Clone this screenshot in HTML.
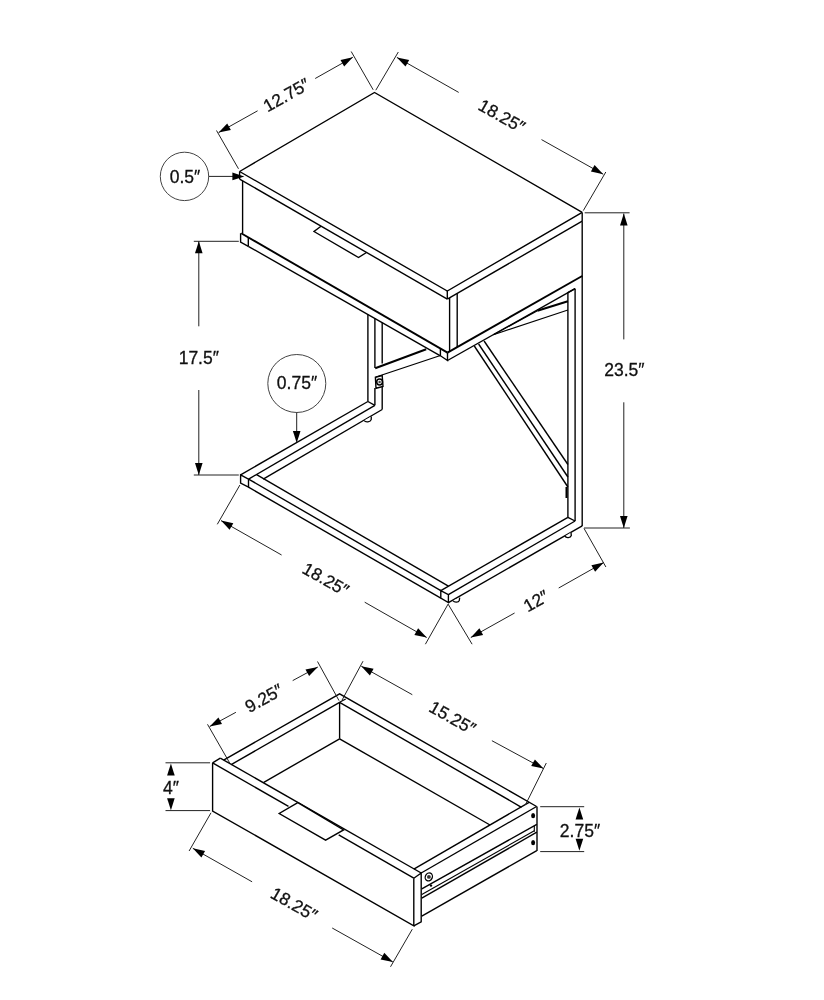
<!DOCTYPE html>
<html><head><meta charset="utf-8"><style>
html,body{margin:0;padding:0;background:#fff;}
svg{display:block;}
text{font-family:"Liberation Sans",sans-serif;fill:#111;stroke:#111;stroke-width:0.3px;}
svg{filter:grayscale(100%);}
</style></head><body>
<svg width="824" height="1000" viewBox="0 0 824 1000" stroke-linecap="butt">
<rect width="824" height="1000" fill="#fff"/>
<polyline points="239.6,171.5 374.5,92.5 582.2,212.4" fill="none" stroke="#000" stroke-width="1.38" stroke-linejoin="miter"/>
<polyline points="239.6,171.5 447.3,291.0 582.2,212.4" fill="none" stroke="#000" stroke-width="1.38" stroke-linejoin="miter"/>
<line x1="239.6" y1="171.5" x2="239.6" y2="179.1" stroke="#000" stroke-width="1.38"/>
<line x1="239.6" y1="179.1" x2="447.3" y2="299.1" stroke="#000" stroke-width="1.38"/>
<line x1="447.3" y1="291.0" x2="447.3" y2="299.1" stroke="#000" stroke-width="1.38"/>
<line x1="447.3" y1="299.1" x2="582.2" y2="221.2" stroke="#000" stroke-width="1.38"/>
<line x1="582.2" y1="212.4" x2="582.2" y2="221.2" stroke="#000" stroke-width="1.38"/>
<line x1="242.6" y1="180.9" x2="242.6" y2="233.3" stroke="#000" stroke-width="1.38"/>
<line x1="582.2" y1="221.2" x2="582.2" y2="526.0" stroke="#000" stroke-width="1.38"/>
<line x1="449.6" y1="298.0" x2="449.6" y2="352.0" stroke="#000" stroke-width="1.38"/>
<line x1="457.2" y1="293.6" x2="457.2" y2="347.0" stroke="#000" stroke-width="1.38"/>
<polyline points="321.0,226.2 314.0,231.5 358.5,257.5 366.5,252.5" fill="none" stroke="#000" stroke-width="1.38" stroke-linejoin="miter"/>
<line x1="241.2" y1="233.3" x2="447.5" y2="352.6" stroke="#000" stroke-width="1.9"/>
<line x1="248.3" y1="246.3" x2="440.4" y2="355.8" stroke="#000" stroke-width="1.38"/>
<polyline points="240.6,233.3 240.6,242.0 248.3,246.3" fill="none" stroke="#000" stroke-width="1.38" stroke-linejoin="miter"/>
<line x1="248.3" y1="237.3" x2="248.3" y2="246.3" stroke="#000" stroke-width="1.38"/>
<polyline points="440.4,349.0 440.4,355.7 447.5,360.5 447.5,352.6" fill="none" stroke="#000" stroke-width="1.38" stroke-linejoin="miter"/>
<line x1="447.5" y1="352.6" x2="582.2" y2="276.0" stroke="#000" stroke-width="1.9"/>
<line x1="447.5" y1="360.5" x2="575.1" y2="288.7" stroke="#000" stroke-width="1.38"/>
<line x1="567.9" y1="292.7" x2="567.9" y2="517.3" stroke="#000" stroke-width="1.38"/>
<line x1="575.1" y1="288.7" x2="575.1" y2="521.0" stroke="#000" stroke-width="1.38"/>
<line x1="567.4" y1="292.9" x2="575.1" y2="288.7" stroke="#000" stroke-width="1.38"/>
<line x1="493.4" y1="334.7" x2="537.4" y2="310.7" stroke="#000" stroke-width="1.2"/>
<line x1="537.4" y1="310.7" x2="567.9" y2="301.2" stroke="#000" stroke-width="2.2"/>
<line x1="493.4" y1="334.7" x2="567.9" y2="310.0" stroke="#000" stroke-width="1.2"/>
<line x1="474.3" y1="346.0" x2="567.9" y2="487.0" stroke="#000" stroke-width="1.38"/>
<line x1="478.6" y1="344.0" x2="567.9" y2="477.0" stroke="#000" stroke-width="1.38"/>
<line x1="484.1" y1="341.0" x2="567.9" y2="464.5" stroke="#000" stroke-width="1.38"/>
<line x1="566.5" y1="487.0" x2="566.5" y2="498.0" stroke="#000" stroke-width="2.0"/>
<line x1="367.9" y1="314.2" x2="367.9" y2="401.5" stroke="#000" stroke-width="1.38"/>
<line x1="374.9" y1="318.2" x2="374.9" y2="368.0" stroke="#000" stroke-width="1.38"/>
<line x1="374.9" y1="388.0" x2="374.9" y2="405.3" stroke="#000" stroke-width="1.38"/>
<line x1="382.2" y1="322.4" x2="382.2" y2="363.6" stroke="#000" stroke-width="1.38"/>
<line x1="382.2" y1="386.5" x2="382.2" y2="409.5" stroke="#000" stroke-width="1.38"/>
<line x1="375.2" y1="368.2" x2="426.2" y2="349.2" stroke="#000" stroke-width="2.0"/>
<line x1="375.9" y1="377.0" x2="440.4" y2="355.5" stroke="#000" stroke-width="1.3"/>
<polygon points="375.4,377.2 382.2,375.6 383.0,386.4 376.0,388.3" fill="none" stroke="#000" stroke-width="1.4" stroke-linejoin="miter"/>
<circle cx="379.6" cy="382.0" r="2.9" fill="none" stroke="#000" stroke-width="1.5"/>
<circle cx="379.6" cy="382.0" r="1.2" fill="#444"/>
<polygon points="240.6,474.8 248.5,479.1 248.5,487.2 240.6,483.0" fill="none" stroke="#000" stroke-width="1.38" stroke-linejoin="miter"/>
<line x1="240.6" y1="474.8" x2="367.9" y2="401.5" stroke="#000" stroke-width="1.38"/>
<line x1="248.6" y1="479.1" x2="374.9" y2="405.3" stroke="#000" stroke-width="1.38"/>
<line x1="263.2" y1="479.2" x2="382.2" y2="409.5" stroke="#000" stroke-width="1.38"/>
<line x1="367.9" y1="401.5" x2="374.9" y2="405.3" stroke="#000" stroke-width="1.38"/>
<line x1="256.6" y1="474.6" x2="448.4" y2="586.2" stroke="#000" stroke-width="1.38"/>
<line x1="248.6" y1="479.1" x2="440.8" y2="590.6" stroke="#000" stroke-width="1.38"/>
<line x1="248.5" y1="487.2" x2="440.8" y2="598.2" stroke="#000" stroke-width="1.38"/>
<polygon points="440.8,590.6 448.4,594.6 448.4,602.6 440.8,598.2" fill="none" stroke="#000" stroke-width="1.38" stroke-linejoin="miter"/>
<line x1="440.8" y1="590.6" x2="567.9" y2="517.3" stroke="#000" stroke-width="1.38"/>
<line x1="448.4" y1="594.6" x2="575.1" y2="521.0" stroke="#000" stroke-width="1.38"/>
<line x1="448.4" y1="602.6" x2="582.2" y2="525.8" stroke="#000" stroke-width="1.38"/>
<line x1="567.9" y1="517.3" x2="575.1" y2="521.0" stroke="#000" stroke-width="1.38"/>
<path d="M452.9,600.6 C454.5,602.8 458.5,602.5 459.3,600.4 L459.7,597.7" fill="#fff" stroke="#000" stroke-width="1.3"/>
<path d="M564.9,536.2 C566.3,538.4 570.5,538.0 571.3,535.5 L571.0,532.6" fill="#fff" stroke="#000" stroke-width="1.3"/>
<path d="M364.1,420.5 C365.5,422.7 370.5,422.2 371.2,419.6 L371.3,416.5" fill="#fff" stroke="#000" stroke-width="1.3"/>
<line x1="238.5" y1="168.8" x2="216.5" y2="130.5" stroke="#222" stroke-width="1.0"/>
<line x1="373.2" y1="89.8" x2="351.2" y2="51.5" stroke="#222" stroke-width="1.0"/>
<line x1="218.6" y1="132.6" x2="257.6" y2="110.8" stroke="#222" stroke-width="1.0"/>
<line x1="315.2" y1="78.5" x2="352.8" y2="57.3" stroke="#222" stroke-width="1.0"/>
<polygon points="218.6,132.6 227.2,123.4 230.9,130.0" fill="#000"/>
<polygon points="352.8,57.3 344.2,66.5 340.5,59.9" fill="#000"/>
<text x="286.4" y="95.0" font-size="17.5" text-anchor="middle" dominant-baseline="central" transform="rotate(-29.3 286.4 95.0)">12.75&#8243;</text>
<line x1="375.8" y1="90.2" x2="398.3" y2="52.0" stroke="#222" stroke-width="1.0"/>
<line x1="583.3" y1="210.6" x2="605.8" y2="172.0" stroke="#222" stroke-width="1.0"/>
<line x1="396.9" y1="57.4" x2="458.7" y2="92.4" stroke="#222" stroke-width="1.0"/>
<line x1="541.5" y1="139.6" x2="603.2" y2="174.2" stroke="#222" stroke-width="1.0"/>
<polygon points="396.9,57.4 409.2,60.0 405.5,66.6" fill="#000"/>
<polygon points="603.2,174.2 590.9,171.6 594.6,165.0" fill="#000"/>
<text x="501.8" y="116.0" font-size="17.5" text-anchor="middle" dominant-baseline="central" transform="rotate(29.5 501.8 116.0)">18.25&#8243;</text>
<circle cx="184.5" cy="176.4" r="24.2" fill="none" stroke="#444" stroke-width="1.0"/>
<text x="185.0" y="176.6" font-size="17.5" text-anchor="middle" dominant-baseline="central">0.5&#8243;</text>
<line x1="208.7" y1="176.4" x2="236.0" y2="176.4" stroke="#222" stroke-width="1.0"/>
<polygon points="244.4,176.4 232.4,180.2 232.4,172.6" fill="#000"/>
<line x1="193.8" y1="241.3" x2="238.8" y2="241.3" stroke="#222" stroke-width="1.0"/>
<line x1="193.8" y1="475.0" x2="238.8" y2="475.0" stroke="#222" stroke-width="1.0"/>
<line x1="198.8" y1="241.3" x2="198.8" y2="326.3" stroke="#222" stroke-width="1.0"/>
<line x1="198.8" y1="390.0" x2="198.8" y2="475.0" stroke="#222" stroke-width="1.0"/>
<polygon points="198.8,241.3 202.6,253.3 195.0,253.3" fill="#000"/>
<polygon points="198.8,475.0 195.0,463.0 202.6,463.0" fill="#000"/>
<text x="198.8" y="358.0" font-size="17.5" text-anchor="middle" dominant-baseline="central">17.5&#8243;</text>
<circle cx="296.8" cy="383.5" r="29.0" fill="none" stroke="#444" stroke-width="1.0"/>
<text x="297.0" y="383.2" font-size="17.5" text-anchor="middle" dominant-baseline="central">0.75&#8243;</text>
<line x1="296.7" y1="412.5" x2="296.7" y2="435.0" stroke="#222" stroke-width="1.0"/>
<polygon points="296.7,443.1 292.9,431.1 300.5,431.1" fill="#000"/>
<line x1="584.7" y1="212.8" x2="629.6" y2="212.8" stroke="#222" stroke-width="1.0"/>
<line x1="584.0" y1="528.0" x2="629.9" y2="528.0" stroke="#222" stroke-width="1.0"/>
<line x1="623.8" y1="213.6" x2="623.8" y2="339.4" stroke="#222" stroke-width="1.0"/>
<line x1="623.8" y1="402.3" x2="623.8" y2="528.0" stroke="#222" stroke-width="1.0"/>
<polygon points="623.8,213.6 627.6,225.6 620.0,225.6" fill="#000"/>
<polygon points="623.8,528.0 620.0,516.0 627.6,516.0" fill="#000"/>
<text x="624.4" y="370.0" font-size="17.5" text-anchor="middle" dominant-baseline="central">23.5&#8243;</text>
<line x1="239.9" y1="485.0" x2="217.3" y2="524.3" stroke="#222" stroke-width="1.0"/>
<line x1="448.1" y1="604.1" x2="425.4" y2="644.2" stroke="#222" stroke-width="1.0"/>
<line x1="221.0" y1="520.6" x2="281.6" y2="555.0" stroke="#222" stroke-width="1.0"/>
<line x1="364.7" y1="602.2" x2="426.7" y2="637.5" stroke="#222" stroke-width="1.0"/>
<polygon points="221.0,520.6 233.3,523.2 229.6,529.8" fill="#000"/>
<polygon points="426.7,637.5 414.4,634.9 418.1,628.3" fill="#000"/>
<text x="325.7" y="579.3" font-size="17.5" text-anchor="middle" dominant-baseline="central" transform="rotate(29.6 325.7 579.3)">18.25&#8243;</text>
<line x1="448.1" y1="604.1" x2="472.1" y2="644.2" stroke="#222" stroke-width="1.0"/>
<line x1="584.0" y1="528.4" x2="605.9" y2="567.0" stroke="#222" stroke-width="1.0"/>
<line x1="470.8" y1="637.5" x2="514.6" y2="613.0" stroke="#222" stroke-width="1.0"/>
<line x1="558.7" y1="588.0" x2="603.7" y2="562.6" stroke="#222" stroke-width="1.0"/>
<polygon points="470.8,637.5 479.4,628.3 483.1,634.9" fill="#000"/>
<polygon points="603.7,562.6 595.1,571.8 591.4,565.2" fill="#000"/>
<text x="536.0" y="601.0" font-size="17.5" text-anchor="middle" dominant-baseline="central" transform="rotate(-29.4 536.0 601.0)">12&#8243;</text>
<polyline points="413.8,878.2 413.8,925.8 212.6,811.0 212.6,762.8" fill="none" stroke="#000" stroke-width="1.38" stroke-linejoin="miter"/>
<line x1="212.6" y1="762.8" x2="288.5" y2="806.4" stroke="#000" stroke-width="1.38"/>
<line x1="338.7" y1="834.8" x2="413.8" y2="878.2" stroke="#000" stroke-width="1.38"/>
<polyline points="413.8,878.2 421.2,873.0 421.2,921.8 413.8,925.8" fill="none" stroke="#000" stroke-width="1.38" stroke-linejoin="miter"/>
<line x1="212.6" y1="762.8" x2="220.3" y2="758.1" stroke="#000" stroke-width="1.38"/>
<line x1="220.3" y1="758.1" x2="421.2" y2="873.0" stroke="#000" stroke-width="1.38"/>
<polygon points="297.8,802.6 279.2,813.5 325.6,840.2 343.6,829.9" fill="#fff" stroke="#000" stroke-width="1.38" stroke-linejoin="miter"/>
<polyline points="223.6,760.2 339.6,693.8 536.6,806.5" fill="none" stroke="#000" stroke-width="1.38" stroke-linejoin="miter"/>
<line x1="231.2" y1="764.6" x2="339.6" y2="702.3" stroke="#000" stroke-width="1.38"/>
<line x1="339.6" y1="702.3" x2="521.5" y2="807.3" stroke="#000" stroke-width="1.38"/>
<line x1="339.6" y1="702.3" x2="345.7" y2="698.9" stroke="#000" stroke-width="1.2"/>
<line x1="339.6" y1="702.3" x2="339.6" y2="738.8" stroke="#000" stroke-width="1.38"/>
<line x1="339.6" y1="738.8" x2="263.8" y2="782.3" stroke="#000" stroke-width="1.38"/>
<line x1="339.6" y1="738.8" x2="490.0" y2="825.0" stroke="#000" stroke-width="1.38"/>
<line x1="413.8" y1="869.2" x2="529.1" y2="802.3" stroke="#000" stroke-width="1.38"/>
<line x1="421.2" y1="873.0" x2="536.6" y2="806.5" stroke="#000" stroke-width="1.38"/>
<line x1="537.0" y1="806.5" x2="537.0" y2="851.0" stroke="#000" stroke-width="1.38"/>
<line x1="421.8" y1="888.8" x2="536.8" y2="824.4" stroke="#000" stroke-width="1.38"/>
<line x1="421.8" y1="894.5" x2="534.3" y2="830.8" stroke="#000" stroke-width="1.1"/>
<line x1="421.8" y1="898.2" x2="536.8" y2="832.2" stroke="#000" stroke-width="1.38"/>
<line x1="534.3" y1="825.8" x2="534.3" y2="831.8" stroke="#000" stroke-width="1.1"/>
<line x1="421.8" y1="916.1" x2="536.8" y2="850.6" stroke="#000" stroke-width="1.38"/>
<ellipse cx="428.8" cy="876.9" rx="3.5" ry="4.1" transform="rotate(25 428.8 876.9)" fill="#fff" stroke="#000" stroke-width="1.3"/>
<circle cx="428.9" cy="876.9" r="1.9" fill="#333"/>
<circle cx="431" cy="885.6" r="1.2" fill="#000"/>
<ellipse cx="533.1" cy="815.7" rx="2.0" ry="2.6" fill="#000"/>
<ellipse cx="533.1" cy="842.7" rx="2.0" ry="2.6" fill="#000"/>
<line x1="229.8" y1="763.2" x2="207.5" y2="724.3" stroke="#222" stroke-width="1.0"/>
<line x1="339.0" y1="700.6" x2="317.5" y2="661.5" stroke="#222" stroke-width="1.0"/>
<line x1="209.7" y1="726.5" x2="235.9" y2="712.3" stroke="#222" stroke-width="1.0"/>
<line x1="292.7" y1="680.6" x2="317.8" y2="667.0" stroke="#222" stroke-width="1.0"/>
<polygon points="209.7,726.5 218.4,717.4 222.0,724.0" fill="#000"/>
<polygon points="317.8,667.0 309.1,676.1 305.5,669.5" fill="#000"/>
<text x="264.0" y="698.2" font-size="17.5" text-anchor="middle" dominant-baseline="central" transform="rotate(-29.0 264.0 698.2)">9.25&#8243;</text>
<line x1="342.0" y1="700.2" x2="363.0" y2="661.2" stroke="#222" stroke-width="1.0"/>
<line x1="525.4" y1="804.9" x2="546.3" y2="763.0" stroke="#222" stroke-width="1.0"/>
<line x1="361.3" y1="666.2" x2="412.3" y2="694.7" stroke="#222" stroke-width="1.0"/>
<line x1="491.9" y1="740.7" x2="543.5" y2="768.6" stroke="#222" stroke-width="1.0"/>
<polygon points="361.3,666.2 373.6,668.8 369.9,675.4" fill="#000"/>
<polygon points="543.5,768.6 531.2,766.0 534.9,759.4" fill="#000"/>
<text x="452.5" y="717.8" font-size="17.5" text-anchor="middle" dominant-baseline="central" transform="rotate(29.3 452.5 717.8)">15.25&#8243;</text>
<line x1="165.5" y1="762.8" x2="210.1" y2="762.8" stroke="#222" stroke-width="1.0"/>
<line x1="165.5" y1="810.6" x2="210.1" y2="810.6" stroke="#222" stroke-width="1.0"/>
<polygon points="170.9,763.5 174.7,775.5 167.1,775.5" fill="#000"/>
<polygon points="170.9,810.3 167.1,798.3 174.7,798.3" fill="#000"/>
<text x="171.0" y="788.0" font-size="17.5" text-anchor="middle" dominant-baseline="central">4&#8243;</text>
<line x1="540.2" y1="806.7" x2="584.2" y2="806.7" stroke="#222" stroke-width="1.0"/>
<line x1="540.2" y1="851.6" x2="584.2" y2="851.6" stroke="#222" stroke-width="1.0"/>
<polygon points="579.4,807.5 583.2,819.5 575.6,819.5" fill="#000"/>
<polygon points="579.4,850.8 575.6,838.8 583.2,838.8" fill="#000"/>
<text x="580.0" y="830.5" font-size="17.5" text-anchor="middle" dominant-baseline="central">2.75&#8243;</text>
<line x1="211.0" y1="812.8" x2="189.1" y2="851.0" stroke="#222" stroke-width="1.0"/>
<line x1="412.3" y1="929.2" x2="390.5" y2="966.8" stroke="#222" stroke-width="1.0"/>
<line x1="192.8" y1="848.3" x2="252.1" y2="881.8" stroke="#222" stroke-width="1.0"/>
<line x1="332.2" y1="928.0" x2="392.9" y2="962.0" stroke="#222" stroke-width="1.0"/>
<polygon points="192.8,848.3 205.1,850.9 201.4,857.5" fill="#000"/>
<polygon points="392.9,962.0 380.6,959.4 384.3,952.8" fill="#000"/>
<text x="294.0" y="904.2" font-size="17.5" text-anchor="middle" dominant-baseline="central" transform="rotate(29.6 294.0 904.2)">18.25&#8243;</text>
</svg>
</body></html>
